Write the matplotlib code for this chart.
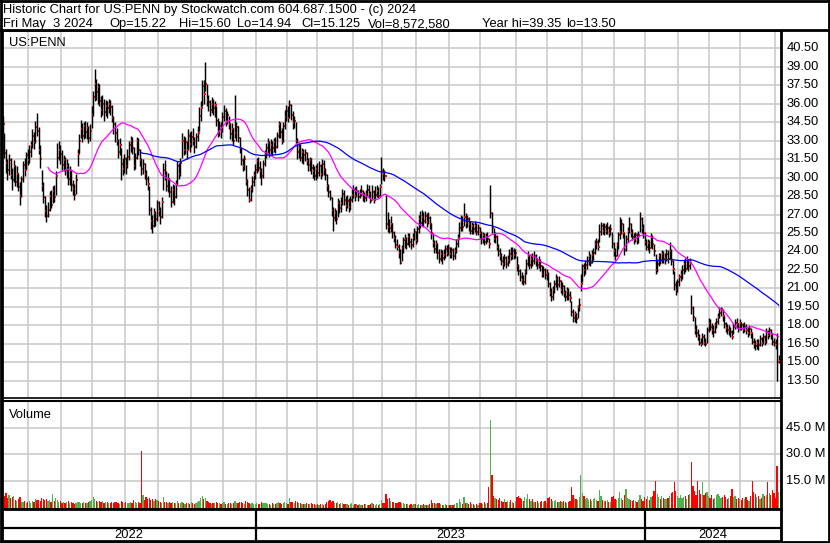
import numpy as np
import pandas as pd
import matplotlib
matplotlib.use("Agg")
import matplotlib.pyplot as plt
import matplotlib.transforms as mtransforms
from matplotlib.lines import Line2D
from matplotlib.collections import LineCollection

# ---------------- data ----------------
close = [
    34.3, 32.0, 31.2, 30.6, 31.4, 30.2, 29.8, 30.9, 29.6, 30.3,
    29.2, 28.5, 29.9, 31.0, 30.6, 31.8, 31.4, 32.1, 32.6, 33.4,
    32.9, 34.1, 33.8, 32.2, 31.5, 29.3, 28.4, 27.3, 26.9, 27.4,
    28.5, 27.8, 28.9, 28.4, 30.1, 31.6, 32.2, 31.9, 31.0, 31.4,
    30.6, 30.9, 29.9, 30.5, 29.4, 29.1, 28.6, 29.8, 31.9, 33.0,
    33.9, 33.4, 34.2, 33.7, 34.0, 33.2, 33.8, 35.1, 36.5,
    37.6, 36.9, 37.3, 36.2, 35.5, 36.0, 35.3, 35.8, 35.6, 36.0,
    35.7, 34.8, 34.3, 33.6, 33.0, 32.1, 32.6, 31.1, 30.7, 31.5,
    30.9, 31.7, 32.6, 33.0, 32.4, 30.9, 31.6, 33.0, 32.2, 31.4,
    30.7, 31.1, 30.3, 29.9, 29.5, 27.4, 26.5, 26.1, 27.1, 26.6,
    27.9, 27.3, 26.8, 28.0, 30.6, 30.2, 29.3, 29.9, 28.8, 28.0,
    29.0, 28.4, 29.5, 30.9, 30.3, 31.2, 33.0, 32.2, 32.9, 32.2,
    33.4, 32.7, 33.3, 33.0, 32.5, 33.3, 33.6, 35.0, 35.6, 37.4,
    36.8, 37.6, 36.3, 36.1, 35.5, 36.0, 35.6, 35.9, 34.6, 33.7,
    34.2, 33.8, 34.9, 35.4, 34.6, 35.1, 34.3, 33.5, 33.9, 33.0,
    33.6, 34.1, 33.2, 32.4, 31.4, 30.9, 31.5, 29.7, 29.0, 28.2,
    29.1, 29.6, 30.2, 30.6, 31.3, 30.8, 30.5, 30.1, 31.1, 31.8,
    32.4, 32.8, 32.2, 32.6, 32.4, 32.9, 32.5, 33.4, 34.3, 33.7,
    33.0, 34.2, 34.9, 35.4, 34.8, 35.9, 35.1, 34.4, 34.6, 33.0,
    32.1, 32.4, 31.6, 32.1, 31.8, 32.0, 31.3, 31.0, 31.4, 30.8,
    30.5, 30.1, 30.7, 30.4, 30.9, 30.3, 31.1, 30.6, 30.2, 29.3,
    28.8, 28.3, 27.4, 26.7, 27.1, 26.6, 27.9, 27.5, 27.9, 28.7,
    28.2, 27.7, 28.1, 27.6, 28.2, 28.6, 29.0, 28.5, 28.9, 28.4,
    28.7, 28.9, 28.7, 28.3, 28.7, 29.0, 28.7, 28.1, 28.8,
    28.2, 28.6, 28.9, 28.5, 29.2, 30.5, 30.3, 30.1, 26.2, 26.0,
    25.9, 26.2, 25.5, 25.1, 24.5, 24.4, 23.9, 23.1, 24.3, 24.9,
    25.0, 24.6, 25.2, 24.8, 24.5, 25.1, 25.6, 24.9, 25.8, 26.6,
    26.3, 26.8, 26.5, 26.9, 26.4, 26.7, 26.2, 25.5, 24.7, 24.2,
    24.6, 23.9, 23.4, 23.8, 23.5, 23.7, 24.2, 23.9, 24.3, 23.8,
    24.1, 23.6, 24.0, 24.6, 25.1, 25.9, 26.5, 26.0, 26.8, 26.3,
    26.6, 26.2, 25.7, 26.1, 25.8, 26.1, 25.6, 25.9, 25.5, 25.0,
    25.3, 24.8, 25.2, 25.0, 24.6, 27.1, 25.9, 25.0, 25.2, 24.4,
    24.0, 23.6, 23.2, 23.0, 23.5, 23.0, 23.3, 23.8, 23.6, 24.0,
    23.7, 23.9, 22.8, 22.4, 21.9, 21.7, 21.5, 22.3, 23.0, 23.6,
    22.9, 23.4, 23.2, 23.6, 23.2, 22.9, 23.2, 22.8, 22.2, 22.5,
    22.1, 22.2, 21.4, 20.6, 20.3, 20.9, 21.4, 21.8, 21.3, 21.6,
    20.9, 21.2, 20.6, 20.3, 20.8, 20.5, 20.2, 19.1, 18.6, 18.9,
    18.5, 19.5, 19.7, 21.4, 22.8, 22.5, 22.9, 23.2, 23.6, 23.1,
    23.7, 23.9, 24.6, 24.8, 24.4, 25.6, 26.1, 25.7, 26.0, 25.7,
    25.9, 25.5, 25.8, 24.6, 24.0, 23.6, 24.5, 25.3, 25.6,
    26.2, 25.5, 24.1, 25.0, 25.7, 26.2, 25.5, 25.2, 24.9, 25.3,
    24.9, 25.3, 26.6, 25.9, 25.5, 24.8, 24.4, 24.7, 24.3, 25.2,
    24.6, 24.0, 22.5, 23.0, 23.6, 23.3, 23.8, 23.4, 23.5, 23.8,
    23.4, 24.0, 23.2, 22.6, 21.3, 20.9, 21.5, 21.9, 22.1, 22.5,
    23.0, 22.6, 23.3, 22.8, 23.1, 19.4, 18.7, 17.6, 17.4, 17.1,
    16.6, 16.5, 17.1, 16.6, 16.5, 17.6, 18.2, 17.9, 17.6, 17.5,
    18.0, 18.3, 18.7, 19.0, 19.3, 18.8, 18.1, 17.8, 17.6, 17.6,
    17.5, 17.1, 17.9, 18.2, 18.1, 17.8, 18.2, 18.0, 17.6, 17.9,
    17.6, 17.4, 17.7, 17.4, 16.7, 16.5, 16.3, 16.6, 16.4, 16.9,
    16.6, 17.1, 16.7, 17.5, 17.2, 17.6, 17.3, 16.7, 16.6, 16.4,
    15.03, 15.125,
]

high = [
    35.0, 33.6, 32.3, 31.5, 31.9, 31.6, 30.8, 31.4, 31.0, 30.9,
    30.4, 29.6, 30.1, 31.3, 31.6, 32.1, 32.3, 32.6, 33.0, 33.9,
    33.7, 34.6, 35.2, 34.1, 32.6, 30.6, 29.6, 28.5, 27.8, 28.0,
    28.9, 29.0, 29.3, 29.4, 30.5, 32.8, 33.0, 32.6, 32.2, 31.8,
    31.7, 31.5, 31.2, 30.9, 30.6, 29.8, 29.5, 30.3, 32.3, 33.5,
    34.7, 34.4, 34.5, 34.6, 34.5, 34.2, 34.3, 35.8, 37.0,
    38.8, 38.0, 37.7, 37.6, 36.6, 36.7, 36.4, 36.3, 36.2, 36.4,
    36.3, 35.9, 35.0, 34.5, 34.0, 33.1, 33.2, 32.4, 31.6, 31.9,
    31.7, 32.3, 33.0, 33.4, 33.3, 32.5, 32.0, 33.3, 33.2, 32.3,
    31.6, 31.5, 31.2, 30.6, 30.1, 29.3, 27.6, 27.0, 27.5, 27.3,
    28.2, 28.1, 27.6, 28.4, 31.2, 31.4, 30.5, 30.4, 30.0, 29.3,
    29.5, 29.4, 29.8, 31.3, 31.2, 31.6, 33.6, 33.4, 33.3, 33.0,
    33.9, 33.7, 33.8, 34.0, 33.3, 33.6, 34.2, 35.7, 36.2, 37.9,
    37.9, 39.35, 37.6, 36.7, 36.3, 36.5, 36.4, 36.2, 35.8, 34.8,
    34.6, 34.5, 35.3, 35.9, 35.6, 35.4, 35.0, 34.4, 34.4, 34.0,
    36.7, 34.5, 34.2, 33.3, 32.5, 31.6, 31.8, 31.0, 29.9, 29.2,
    29.4, 30.1, 30.5, 31.1, 31.6, 31.7, 31.3, 30.8, 31.4, 32.2,
    32.8, 33.2, 33.0, 33.1, 33.0, 33.2, 33.3, 33.7, 34.6, 34.5,
    34.0, 34.5, 35.5, 35.9, 35.8, 36.3, 36.0, 35.4, 35.0, 34.5,
    33.2, 32.8, 32.7, 32.4, 32.3, 32.3, 32.1, 31.6, 31.7, 31.6,
    31.1, 30.9, 31.0, 31.2, 31.3, 31.1, 31.5, 31.4, 30.8, 30.3,
    29.5, 29.0, 28.4, 27.6, 27.5, 27.4, 28.3, 28.2, 28.4, 29.1,
    29.0, 28.5, 28.6, 28.3, 28.5, 29.1, 29.4, 29.2, 29.3, 29.0,
    29.1, 29.4, 29.0, 28.8, 29.0, 29.5, 29.4, 28.9, 29.4,
    29.0, 29.3, 29.4, 29.2, 29.5, 31.7, 30.8, 30.6, 28.6, 27.2,
    26.6, 26.9, 26.3, 25.7, 25.3, 25.0, 24.6, 24.2, 24.5, 25.2,
    25.4, 25.2, 25.5, 25.5, 25.1, 25.5, 25.9, 25.7, 26.1, 27.0,
    27.3, 27.4, 27.2, 27.3, 27.1, 27.2, 26.9, 26.3, 25.5, 24.9,
    24.9, 24.7, 24.2, 24.2, 24.1, 24.2, 24.5, 24.5, 24.6, 24.4,
    24.4, 24.3, 24.4, 25.0, 25.4, 26.4, 27.0, 26.9, 27.9, 27.1,
    27.0, 26.8, 26.5, 26.4, 26.3, 26.5, 26.3, 26.2, 26.0, 25.7,
    25.6, 25.5, 25.5, 25.6, 25.1, 29.4, 27.2, 25.9, 25.6, 25.3,
    24.6, 24.3, 23.9, 23.6, 23.8, 23.6, 23.7, 24.2, 24.4, 24.4,
    24.3, 24.2, 23.6, 23.0, 22.6, 22.3, 22.1, 22.6, 23.4, 24.0,
    23.7, 23.8, 23.9, 24.0, 23.8, 23.5, 23.6, 23.4, 22.9, 22.8,
    22.7, 22.6, 22.3, 21.5, 21.0, 21.2, 21.7, 22.2, 22.0, 22.0,
    21.7, 21.5, 21.3, 20.9, 21.1, 21.0, 20.8, 20.0, 19.3, 19.2,
    19.0, 19.7, 20.2, 22.2, 23.0, 23.1, 23.3, 23.6, 24.0, 23.8,
    24.1, 24.3, 24.9, 25.1, 25.0, 26.2, 26.4, 26.3, 26.3, 26.2,
    26.4, 26.1, 26.2, 25.6, 24.8, 24.3, 24.8, 25.6, 26.8,
    26.6, 26.3, 25.5, 25.3, 26.0, 26.8, 26.3, 25.8, 25.5, 25.6,
    25.5, 25.7, 27.2, 26.8, 26.2, 25.6, 25.0, 25.0, 24.9, 25.5,
    25.3, 24.6, 23.8, 23.4, 23.9, 23.9, 24.1, 24.0, 23.9, 24.2,
    24.1, 24.8, 24.2, 23.3, 22.4, 21.6, 21.8, 22.2, 22.5, 22.9,
    23.3, 23.5, 23.6, 23.4, 23.5, 20.5, 19.6, 18.7, 18.0, 17.7,
    17.3, 17.0, 17.4, 17.3, 17.0, 17.9, 18.6, 18.5, 18.2, 18.0,
    18.3, 18.6, 19.0, 19.5, 19.5, 19.3, 18.8, 18.3, 18.1, 18.0,
    17.9, 17.6, 18.2, 18.5, 18.6, 18.2, 18.5, 18.3, 18.2, 18.3,
    18.1, 17.9, 18.0, 17.8, 17.4, 17.0, 16.8, 16.9, 16.9, 17.2,
    17.1, 17.4, 17.2, 17.8, 17.6, 17.9, 17.7, 17.4, 17.0, 16.9,
    17.4, 15.60,
]

low = [
    33.6, 31.6, 30.4, 29.8, 30.2, 29.9, 29.0, 29.6, 29.3, 29.2,
    28.9, 27.8, 28.4, 29.6, 30.1, 30.7, 31.0, 31.2, 31.7, 32.4,
    32.3, 32.8, 33.4, 31.9, 30.8, 28.9, 27.9, 26.8, 26.4, 26.8,
    27.3, 27.5, 27.9, 28.0, 28.6, 30.8, 31.4, 31.1, 30.6, 30.5,
    30.2, 30.0, 29.4, 29.4, 28.9, 28.6, 28.2, 28.7, 30.9, 32.0,
    33.2, 32.9, 33.1, 33.2, 33.1, 32.8, 33.0, 34.0, 35.0,
    36.2, 36.3, 36.0, 35.8, 34.9, 35.1, 34.6, 35.0, 34.8, 35.2,
    35.1, 34.5, 33.5, 32.9, 32.6, 31.6, 31.8, 29.8, 30.2, 30.4,
    30.3, 30.8, 31.4, 32.1, 31.9, 30.6, 30.7, 31.5, 31.8, 30.9,
    30.2, 30.3, 29.9, 29.4, 29.0, 27.0, 25.8, 25.5, 26.0, 26.1,
    26.5, 26.9, 26.2, 26.7, 29.0, 29.8, 28.9, 28.8, 28.4, 27.6,
    27.9, 27.8, 28.3, 29.5, 29.9, 30.1, 31.6, 31.8, 31.9, 31.5,
    32.3, 32.1, 32.5, 32.6, 32.0, 32.4, 33.0, 33.8, 34.6, 35.8,
    36.0, 37.0, 35.8, 35.4, 35.0, 35.2, 35.1, 34.9, 34.2, 33.3,
    33.4, 33.2, 33.7, 34.6, 34.2, 34.3, 33.9, 33.1, 33.0, 32.6,
    33.2, 33.0, 32.9, 32.0, 31.0, 30.5, 30.6, 29.4, 28.5, 28.0,
    28.1, 28.8, 29.3, 29.9, 30.4, 30.5, 30.0, 29.4, 30.0, 30.9,
    31.6, 31.9, 31.7, 31.9, 31.8, 32.1, 32.0, 32.4, 33.2, 33.2,
    32.7, 32.9, 33.9, 34.6, 34.5, 34.8, 34.7, 33.9, 34.0, 32.8,
    31.5, 31.6, 31.3, 31.2, 31.1, 31.3, 31.0, 30.5, 30.5, 30.3,
    30.0, 29.8, 29.8, 30.0, 30.1, 29.9, 30.1, 30.2, 29.8, 28.9,
    28.4, 28.2, 26.9, 25.7, 26.5, 26.2, 26.8, 27.1, 27.2, 27.8,
    27.8, 27.3, 27.5, 27.2, 27.4, 28.0, 28.3, 28.1, 28.4, 28.1,
    28.3, 28.5, 28.1, 28.0, 28.1, 28.5, 28.3, 27.9, 28.2,
    27.9, 28.2, 28.4, 28.3, 28.5, 29.5, 29.8, 29.7, 25.8, 25.6,
    25.5, 25.6, 25.1, 24.8, 24.3, 24.1, 23.5, 23.0, 23.2, 23.9,
    24.3, 24.2, 24.5, 24.4, 24.2, 24.4, 24.9, 24.6, 24.8, 25.5,
    25.9, 26.1, 26.0, 26.3, 26.0, 26.2, 25.8, 25.0, 24.4, 23.9,
    23.9, 23.4, 23.1, 23.2, 23.0, 23.3, 23.5, 23.6, 23.7, 23.5,
    23.5, 23.3, 23.4, 23.9, 24.4, 25.2, 25.7, 25.7, 26.1, 25.9,
    26.0, 25.7, 25.4, 25.4, 25.4, 25.6, 25.3, 25.3, 25.0, 24.6,
    24.7, 24.5, 24.6, 24.8, 24.3, 26.7, 25.5, 24.8, 24.7, 24.1,
    23.6, 23.3, 22.9, 22.6, 22.8, 22.7, 22.8, 23.1, 23.3, 23.4,
    23.4, 23.5, 22.4, 22.1, 21.6, 21.4, 21.3, 21.4, 22.2, 22.8,
    22.6, 22.7, 22.8, 23.0, 22.8, 22.6, 22.7, 22.4, 21.9, 21.9,
    21.8, 21.7, 21.1, 20.4, 20.0, 20.1, 20.6, 21.1, 20.9, 21.1,
    20.6, 20.5, 20.3, 20.0, 20.1, 20.1, 19.9, 18.8, 18.3, 18.3,
    18.2, 18.6, 19.2, 20.8, 21.5, 22.0, 22.2, 22.6, 22.9, 22.8,
    23.1, 23.3, 23.8, 24.2, 24.1, 24.8, 25.3, 25.4, 25.3, 25.4,
    25.4, 25.2, 25.3, 24.3, 23.6, 23.3, 23.6, 24.2, 25.0,
    25.4, 25.1, 23.7, 24.0, 24.8, 25.5, 25.2, 24.9, 24.6, 24.8,
    24.6, 24.7, 25.6, 25.5, 25.1, 24.5, 24.1, 24.1, 23.9, 24.3,
    24.2, 23.6, 22.2, 22.3, 22.8, 23.0, 23.1, 23.1, 23.0, 23.2,
    23.1, 23.4, 22.9, 22.2, 20.9, 20.5, 20.7, 21.2, 21.6, 21.8,
    22.2, 22.3, 22.6, 22.4, 22.6, 18.9, 18.4, 17.3, 17.1, 16.8,
    16.4, 16.3, 16.5, 16.4, 16.3, 16.6, 17.5, 17.6, 17.3, 17.1,
    17.4, 17.8, 18.1, 18.6, 18.8, 18.4, 17.8, 17.5, 17.3, 17.2,
    17.1, 16.9, 17.3, 17.7, 17.8, 17.5, 17.6, 17.6, 17.4, 17.5,
    17.3, 17.1, 17.2, 17.0, 16.5, 16.2, 16.0, 16.1, 16.0, 16.3,
    16.3, 16.5, 16.4, 16.6, 16.9, 17.1, 16.9, 16.4, 16.3, 16.1,
    13.50, 14.94,
]

volume_m = [
    7.5, 6.2, 8.2, 5.4, 6.8, 4.9, 5.7, 6.3, 4.1, 3.6,
    4.4, 5.8, 3.0, 2.6, 3.3, 2.4, 2.9, 3.4, 2.2, 3.7,
    3.1, 4.6, 3.8, 4.2, 3.5, 5.2, 4.7, 3.9, 4.4, 3.2,
    4.1, 3.0, 7.4, 3.4, 5.3, 4.1, 2.6, 3.2, 2.4, 2.9,
    2.2, 2.7, 3.3, 2.1, 2.8, 2.4, 1.9, 2.3, 2.6, 3.1,
    2.5, 2.0, 2.8, 2.2, 2.4, 2.6, 3.4, 4.1, 5.9,
    4.8, 3.7, 2.9, 3.6, 2.8, 3.2, 2.5, 3.0, 2.7, 2.2,
    2.4, 2.8, 2.1, 2.6, 3.0, 2.3, 1.9, 3.4, 2.6, 2.2,
    2.7, 2.0, 2.3, 2.6, 2.1, 3.9, 2.8, 2.4, 3.1, 2.5,
    31.8, 6.7, 4.1, 5.9, 4.6, 5.1, 3.8, 4.4, 3.4, 4.8,
    4.2, 3.5, 2.9, 2.4, 5.6, 3.1, 2.7, 2.4, 2.9, 2.2,
    2.8, 2.1, 2.5, 3.2, 2.3, 2.0, 2.7, 2.2, 1.9, 2.4,
    2.1, 1.8, 2.6, 2.3, 1.9, 2.2, 2.8, 3.5, 4.9, 6.3,
    4.6, 5.4, 3.4, 2.6, 2.2, 1.9, 2.4, 2.0, 2.8, 2.5,
    2.0, 1.7, 2.3, 2.6, 1.9, 1.8, 2.4, 2.1, 1.6, 2.2,
    3.6, 2.4, 2.0, 2.6, 2.8, 2.1, 1.9, 3.3, 2.6, 2.2,
    1.8, 2.0, 1.6, 1.7, 2.1, 1.5, 1.9, 2.6, 2.3, 2.0,
    2.5, 1.9, 1.6, 1.4, 2.0, 1.7, 1.5, 2.2, 2.9, 2.1,
    1.8, 2.4, 2.7, 2.3, 1.9, 4.9, 3.1, 2.6, 2.0, 3.4,
    2.9, 2.1, 2.5, 1.8, 1.6, 1.9, 2.2, 1.7, 1.5, 2.0,
    1.6, 1.9, 1.4, 1.7, 1.3, 1.8, 1.5, 1.2, 1.9, 2.6,
    3.2, 4.0, 3.1, 3.7, 2.5, 2.2, 2.8, 1.9, 2.1, 2.4,
    1.7, 1.5, 1.9, 1.4, 1.6, 2.0, 1.3, 1.5, 1.8, 1.2,
    1.6, 1.4, 1.3, 1.5, 1.7, 1.2, 1.4, 1.8, 2.1,
    1.5, 1.3, 1.7, 1.4, 1.9, 3.8, 2.5, 2.1, 7.4, 4.3,
    4.9, 3.2, 2.6, 2.9, 2.4, 2.2, 2.7, 3.1, 2.5, 2.0,
    1.8, 1.5, 1.9, 1.4, 1.6, 1.3, 1.8, 1.5, 1.2, 1.7,
    1.4, 1.1, 1.6, 1.2, 0.9, 1.3, 1.5, 3.9, 2.4, 2.0,
    1.6, 2.2, 2.5, 1.8, 1.4, 1.2, 1.5, 1.1, 1.3, 1.0,
    1.4, 1.2, 1.6, 2.3, 2.0, 4.8, 3.1, 1.9, 5.6, 2.4,
    2.2, 1.8, 2.6, 1.5, 1.9, 1.4, 1.6, 1.3, 2.1, 2.5,
    1.8, 2.7, 1.9, 2.4, 11.6, 49.5, 18.2, 6.1, 5.4, 4.7,
    4.2, 5.0, 3.6, 3.1, 4.6, 2.8, 3.3, 2.6, 3.9, 2.9,
    2.4, 3.2, 5.8, 6.1, 5.4, 4.3, 3.6, 5.9, 4.8, 7.6,
    4.4, 3.5, 4.7, 3.0, 2.6, 3.2, 2.4, 2.8, 3.5, 2.7,
    3.3, 2.5, 4.9, 5.7, 4.4, 3.6, 3.2, 4.1, 2.9, 2.6,
    3.4, 2.6, 3.5, 3.0, 2.4, 2.9, 3.3, 11.6, 6.7, 5.1,
    4.8, 4.2, 5.5, 18.2, 7.9, 6.3, 4.6, 5.2, 3.8, 4.4,
    3.6, 4.5, 5.3, 4.0, 3.4, 9.7, 6.2, 4.1, 3.7, 3.2,
    3.9, 2.8, 2.9, 5.6, 6.0, 4.8, 4.2, 5.3, 8.7,
    5.4, 4.1, 6.6, 10.2, 5.1, 4.6, 3.8, 3.4, 4.2, 3.6,
    3.1, 3.9, 6.8, 4.7, 3.5, 5.8, 4.4, 6.1, 4.2, 5.5,
    6.5, 8.9, 15.0, 7.3, 5.6, 4.8, 6.2, 5.1, 4.6, 4.3,
    5.0, 6.4, 7.8, 8.8, 14.0, 9.2, 6.5, 5.3, 7.1, 4.9,
    5.5, 6.0, 4.7, 6.6, 7.2, 25.8, 11.8, 8.9, 6.8, 15.0,
    9.6, 7.4, 14.0, 6.9, 7.7, 8.3, 6.1, 5.4, 7.0, 4.8,
    5.3, 6.8, 7.5, 6.2, 4.9, 5.7, 6.9, 5.5, 4.6, 5.1,
    6.0, 10.0, 5.8, 6.4, 4.7, 5.2, 4.4, 3.9, 5.0, 4.6,
    5.6, 4.2, 3.7, 6.1, 15.0, 8.8, 7.3, 5.9, 6.5, 4.8,
    5.3, 7.6, 6.4, 7.1, 14.0, 8.2, 6.6, 9.5, 7.8, 5.4,
    23.5, 8.57,
]

price_ticks = [40.50, 39.00, 37.50, 36.00, 34.50, 33.00, 31.50, 30.00, 28.50,
               27.00, 25.50, 24.00, 22.50, 21.00, 19.50, 18.00, 16.50, 15.00, 13.50]
volume_ticks = [45.0, 30.0, 15.0]
year_labels = ["2022", "2023", "2024"]
ma_fast, ma_slow = 30, 90

# trading calendar of the chart (exchange holidays and two days absent from the feed)
holidays = ["2022-05-30", "2022-06-20", "2022-07-04", "2022-08-17", "2022-08-18",
            "2022-09-05", "2022-11-24", "2022-12-26", "2023-01-02", "2023-01-16",
            "2023-02-20", "2023-04-07", "2023-05-29", "2023-06-19", "2023-07-04",
            "2023-09-04", "2023-11-23", "2023-12-25", "2024-01-01", "2024-01-15",
            "2024-02-19", "2024-03-29"]

title1 = "Historic Chart for US:PENN by Stockwatch.com 604.687.1500 - (c) 2024"
title2_parts = [("Fri May  3 2024", 3), ("Op=15.22", 109), ("Hi=15.60", 179),
                ("Lo=14.94", 237), ("Cl=15.125", 301), ("Vol=8,572,580", 368),
                ("Year hi=39.35", 482), ("lo=13.50", 566)]

# ---------------- build ----------------
n = min(len(close), len(high), len(low), len(volume_m))
close = np.array(close[:n]); high = np.array(high[:n]); low = np.array(low[:n])
vol = np.array(volume_m[:n])
x = np.arange(n)

dates = pd.bdate_range("2022-05-06", "2024-05-03", freq="C", holidays=holidays)
dates = dates[-n:] if len(dates) >= n else dates
months = dates.to_period("M")
month_starts = [i for i in range(1, len(dates)) if months[i] != months[i - 1]]
years = dates.year
year_starts = [i for i in range(1, len(dates)) if years[i] != years[i - 1]]

W, H = 830, 543
FONT = "Liberation Sans"
FS = 9.3
plt.rcParams["font.family"] = [FONT, "DejaVu Sans"]
fig = plt.figure(figsize=(W / 100, H / 100), dpi=100)
fig.patch.set_facecolor("white")


def rect(x0, y0, x1, y1):
    return [x0 / W, 1 - y1 / H, (x1 - x0) / W, (y1 - y0) / H]


def ftext(px, py, s, size=FS, **kw):
    fig.text(px / W, 1 - py / H, s, fontsize=size, color="black", **kw)


XL = (-0.5, n + 0.5)
GRID = "#c8c8c8"

axp = fig.add_axes(rect(2, 31, 781, 398))
axv = fig.add_axes(rect(2, 401, 781, 509))
axb = fig.add_axes(rect(2, 509, 781, 541))
for ax in (axp, axv, axb):
    ax.set_xlim(*XL)
    ax.set_xticks([]); ax.set_yticks([])
    for s in ax.spines.values():
        s.set_color("black")

# price panel
axp.set_ylim(12.12, 41.88)
for p in price_ticks:
    axp.axhline(p, color=GRID, lw=1.1, zorder=0)
for m in month_starts:
    axp.axvline(m - 0.5, color=GRID, lw=1.1, zorder=0)

# high-low bars with the close mark, drawn bar after bar
PX = 72.0 / 100.0   # points per pixel
segs, seg_cols, seg_lw = [], [], []
for i in range(n):
    segs.append([(x[i], low[i]), (x[i], high[i])])
    seg_cols.append("black"); seg_lw.append(1.45 * PX)
    segs.append([(x[i] + 0.35, close[i]), (x[i] + 1.3, close[i])])
    seg_cols.append("#ff0000"); seg_lw.append(2.0 * PX)
lc = LineCollection(segs, colors=seg_cols, linewidths=seg_lw, antialiaseds=True,
                    capstyle="butt", zorder=2)
lc.set_snap(True)
axp.add_collection(lc)

cs = pd.Series(close)
axp.plot(x, cs.rolling(ma_fast).mean(), color="#ff00ff", lw=0.9, zorder=4)
axp.plot(x, cs.rolling(ma_slow).mean(), color="#0000ff", lw=0.9, zorder=4)
axp.spines["left"].set_linewidth(2)
axp.spines["top"].set_linewidth(1.2)
axp.spines["right"].set_linewidth(2)
axp.spines["bottom"].set_linewidth(1.2)
tp = mtransforms.blended_transform_factory(axp.transAxes, axp.transData)
for p in price_ticks:
    axp.text(1 + 5.5 / 779, p, f"{p:.2f}", transform=tp, ha="left", va="center",
             fontsize=FS, clip_on=False)

# volume panel
vbot = -1.14
axv.set_ylim(vbot, 60.4)
for v in volume_ticks:
    axv.axhline(v, color=GRID, lw=1.1, zorder=0)
for m in month_starts:
    axv.axvline(m - 0.5, color=GRID, lw=1.1, zorder=0)
cols = ["#ff0000"] + ["#4cb44c" if close[i] >= close[i - 1] else "#ff0000" for i in range(1, n)]
axv.bar(x, vol - vbot, bottom=vbot, width=0.8, color=cols, linewidth=0,
        antialiased=False, zorder=2)
axv.spines["left"].set_linewidth(2)
axv.spines["right"].set_linewidth(2)
axv.spines["top"].set_linewidth(1.5)
axv.spines["bottom"].set_linewidth(2)
tv = mtransforms.blended_transform_factory(axv.transAxes, axv.transData)
for v in volume_ticks:
    axv.text(1 + 5.5 / 779, v, f"{v:.1f} M", transform=tv, ha="left", va="center",
             fontsize=FS, clip_on=False)

# bottom year strip
axb.set_ylim(0, 1)
axb.axhline((541 - 527.5) / 32, color="black", lw=1.6)
for ys in year_starts:
    axb.axvline(ys - 0.5, color="black", lw=1.6)
bounds = [XL[0]] + [ys - 0.5 for ys in year_starts] + [XL[1]]
for k, lab in enumerate(year_labels[:len(bounds) - 1]):
    axb.text((bounds[k] + bounds[k + 1]) / 2, (541 - 534.5) / 32, lab,
             ha="center", va="center", fontsize=FS)
for s in axb.spines.values():
    s.set_linewidth(2)

# labels and titles
ftext(9, 45.7, "US:PENN", va="baseline")
ftext(9, 417.7, "Volume", va="baseline")
ftext(3, 12.7, title1, va="baseline")
for s, px in title2_parts:
    ftext(px, 27.3, s, va="baseline")

# outer frame lines (pixel coordinates)
def fline(xs, ys, lw=2.0):
    fig.add_artist(Line2D([v / W for v in xs], [1 - v / H for v in ys],
                          color="black", lw=lw, transform=fig.transFigure))

fline([1, 829], [1, 1])
fline([1, 829], [541.5, 541.5])
fline([1, 1], [1, 541.5])
fline([829, 829], [1, 541.5])
fline([1, 829], [30, 30])

fig.savefig("out.png", dpi=100, facecolor="white")
